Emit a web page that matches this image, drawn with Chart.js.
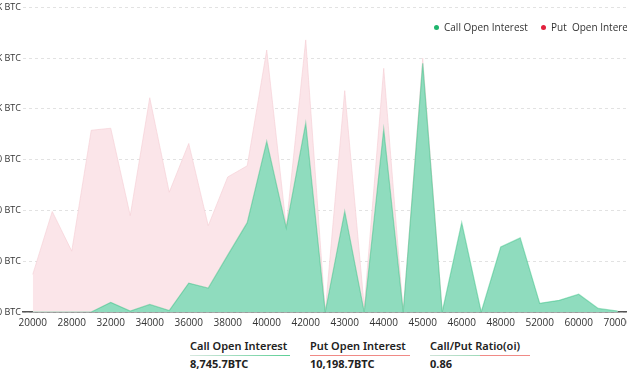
<!DOCTYPE html>
<html>
<head>
<meta charset="utf-8">
<script src="https://cdn.jsdelivr.net/npm/chart.js@4"></script>
<style>
  html, body { margin: 0; padding: 0; width: 627px; height: 376px; overflow: hidden; background: #fff; }
  #wrap { position: absolute; left: -40px; top: 0; width: 677px; height: 334px; }
  .stat { position: absolute; top: 338px; font-family: "Noto Sans", sans-serif; color: #222; }
  .stat .lab { font-size: 11px; font-weight: 600; line-height: 16px; padding-bottom: 1px; white-space: nowrap; }
  .stat .bar { height: 1px; width: 100px; }
  .stat .val { font-size: 11px; font-weight: 700; line-height: 16px; margin-top: 0px; white-space: nowrap; }
  .leg { position: absolute; top: 19px; font-family: "Open Sans", sans-serif; font-size: 10px; color: #333; white-space: pre; line-height: 16px; }
  .leg i { position: absolute; left: -10px; top: 6px; width: 5px; height: 5px; border-radius: 50%; }
</style>
</head>
<body>
<div id="wrap"><canvas id="c"></canvas></div>

<div id="legend"></div>

<div class="stat" style="left:190px">
  <div class="lab">Call Open Interest</div>
  <div class="bar" style="background:linear-gradient(90deg,#d8e8e0,#5ccf95)"></div>
  <div class="val">8,745.7BTC</div>
</div>
<div class="stat" style="left:310px">
  <div class="lab">Put Open Interest</div>
  <div class="bar" style="background:linear-gradient(90deg,#f08a86,#f08a86)"></div>
  <div class="val">10,198.7BTC</div>
</div>
<div class="stat" style="left:430px">
  <div class="lab">Call/Put Ratio(oi)</div>
  <div class="bar" style="background:linear-gradient(90deg,#cfe3d8 0%,#9ed9b8 50%,#f08a86 50%,#f08a86 100%)"></div>
  <div class="val">0.86</div>
</div>

<script>
const categories = ['20000','24000','28000','30000','32000','33000','34000','35000','36000','37000','38000','39000','40000','41000','42000','42500','43000','43500','44000','44500','45000','45500','46000','47000','48000','50000','52000','56000','60000','65000','70000'];
const callOI = [0,0,0,0,95,10,75,15,285,235,560,880,1680,830,1860,0,990,0,1800,0,2450,0,880,0,640,730,85,115,175,35,10];
const putOI  = [370,990,600,1790,1810,950,2110,1180,1660,850,1330,1440,2580,840,2680,0,2180,50,2400,0,2500,0,600,0,420,500,60,80,120,20,5];
const seriesNames = ['Call Open Interest', 'Put  Open Interest'];
const seriesDots = ['#1fb56d', '#e2203c'];
const legendLeft = [444, 551];

const yFormat = v => v >= 2000 ? (v / 1000) + 'K BTC' : v + ' BTC';

// HTML legend (real text)
const lg = document.getElementById('legend');
seriesNames.forEach((n, k) => {
  const d = document.createElement('div');
  d.className = 'leg';
  d.style.left = legendLeft[k] + 'px';
  d.innerHTML = '<i style="background:' + seriesDots[k] + '"></i>';
  d.appendChild(document.createTextNode(n));
  lg.appendChild(d);
});

new Chart(document.getElementById('c'), {
  type: 'line',
  data: {
    labels: categories,
    datasets: [
      {
        label: seriesNames[0],
        data: callOI,
        fill: 'origin',
        backgroundColor: 'rgb(143,220,190)',
        borderColor: 'rgba(50,190,128,0.45)',
        borderWidth: 1.2,
        pointRadius: 0,
        tension: 0
      },
      {
        label: seriesNames[1],
        data: putOI,
        fill: 'origin',
        backgroundColor: 'rgb(251,229,233)',
        borderColor: 'rgba(245,205,212,0.6)',
        borderWidth: 1,
        pointRadius: 0,
        tension: 0
      }
    ]
  },
  options: {
    responsive: true,
    maintainAspectRatio: false,
    animation: false,
    layout: { padding: { top: 7, right: 0, bottom: 0, left: 0 } },
    plugins: {
      tooltip: { enabled: false },
      legend: { display: false }
    },
    scales: {
      x: {
        offset: true,
        grid: { display: false, drawTicks: false },
        border: { display: true, color: '#555', width: 1.5 },
        ticks: {
          autoSkip: false,
          maxRotation: 0,
          padding: 5,
          color: '#333',
          font: { family: '"Open Sans", sans-serif', size: 10 },
          callback: function(v, i) { return i % 2 === 0 ? categories[i] : ''; }
        }
      },
      y: {
        min: 0,
        max: 3000,
        afterFit: s => { s.width = 63; },
        grid: { color: '#e2e2e2', drawTicks: false },
        border: { display: false, dash: [3, 3] },
        ticks: {
          stepSize: 500,
          padding: 2,
          color: '#333',
          font: { family: '"Open Sans", sans-serif', size: 9 },
          callback: v => yFormat(v)
        }
      }
    }
  }
});
</script>
</body>
</html>
